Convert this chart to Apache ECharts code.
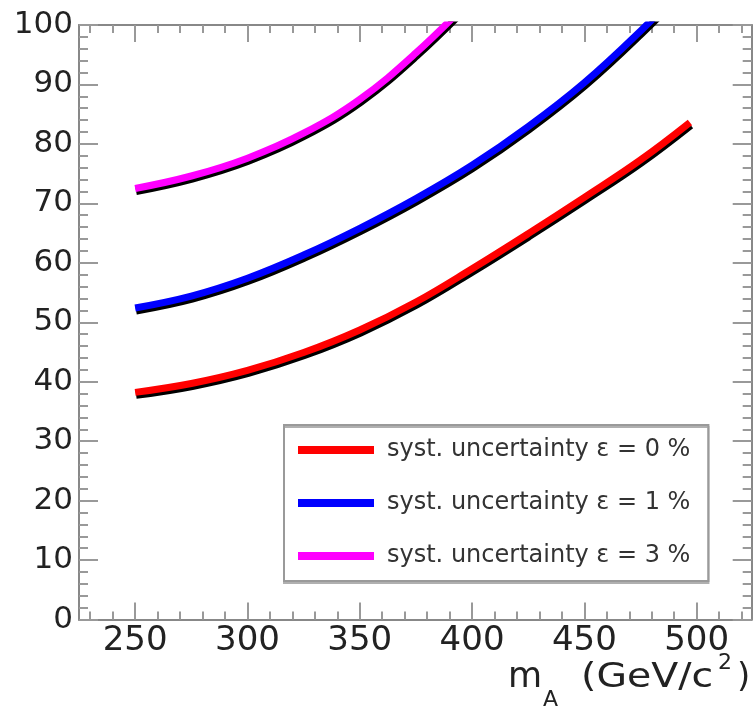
<!DOCTYPE html>
<html><head><meta charset="utf-8">
<script src="https://cdn.jsdelivr.net/npm/echarts@6/dist/echarts.min.js"></script>
<style>html,body{margin:0;padding:0;background:#fff}#c{width:753px;height:709px}</style>
</head><body><div id="c"></div>
<script>
// m_A (GeV/c^2)
const massRed = [250, 275, 300, 325, 350, 375, 400, 425, 450, 475, 497];
const limitRed = [38.2, 39.7, 41.9, 44.9, 48.7, 53.4, 59.0, 64.9, 71.0, 77.3, 83.6];
const massBlue = [250, 275, 300, 325, 350, 375, 400, 425, 450, 475, 500];
const limitBlue = [52.4, 54.4, 57.4, 61.3, 65.8, 70.8, 76.4, 82.9, 90.3, 99.0, 108.5];
const massMagenta = [250, 275, 300, 325, 350, 375, 400];
const limitMagenta = [72.5, 74.6, 77.6, 81.8, 87.5, 95.3, 104.5];

const seriesNames = ['syst. uncertainty \u03b5 = 0 %', 'syst. uncertainty \u03b5 = 1 %', 'syst. uncertainty \u03b5 = 3 %'];
const xMajorTicks = [250, 300, 350, 400, 450, 500];
const xMinorTicks = [230, 240, 260, 270, 280, 290, 310, 320, 330, 340, 360, 370, 380, 390, 410, 420, 430, 440, 460, 470, 480, 490, 510, 520];

function pairs(xs, ys) { return xs.map((x, i) => [x, ys[i]]); }

const chart = echarts.init(document.getElementById('c'), null, {renderer: 'canvas'});
const axisGray = '#888';
const tickGray = '#999';
const XMIN = 225, XMAX = 524.5;

function xAxisDef(pos, ticks, len, showLine, showLabel) {
  return {
    type: 'value', min: XMIN, max: XMAX, position: pos,
    axisLine: {show: showLine, onZero: false, lineStyle: {color: axisGray, width: 2}},
    axisTick: {show: true, inside: true, length: len, customValues: ticks, lineStyle: {color: tickGray, width: 2}},
    axisLabel: showLabel ? {show: true, customValues: ticks, fontFamily: 'DejaVu Sans', fontSize: 34, color: '#222', margin: 5} : {show: false},
    splitLine: {show: false}
  };
}
function yAxisDef(pos, showLabel) {
  return {
    type: 'value', min: 0, max: 100, interval: 10, position: pos,
    axisLine: {show: true, onZero: false, lineStyle: {color: axisGray, width: 2}},
    axisTick: {show: true, inside: true, length: 19, lineStyle: {color: tickGray, width: 2}},
    minorTick: {show: true, splitNumber: 5, length: 9, lineStyle: {color: tickGray, width: 2}},
    axisLabel: showLabel ? {show: true, fontFamily: 'DejaVu Sans', fontSize: 31, color: '#222', margin: 6} : {show: false},
    splitLine: {show: false}
  };
}
function lineSeries(name, data, color) {
  return {
    name: name, type: 'line', xAxisIndex: 0, yAxisIndex: 0, data: data,
    showSymbol: false, symbol: 'none', smooth: 0.4, clip: true,
    color: color,
    lineStyle: {color: color, width: 7, shadowColor: '#000', shadowBlur: 0, shadowOffsetX: 1, shadowOffsetY: 3},
    itemStyle: {color: color}
  };
}

const titleFont = 'DejaVu Sans';
chart.setOption({
  animation: false,
  backgroundColor: '#fff',
  grid: {left: 79, right: 1.3, top: 25, bottom: 89.5, containLabel: false},
  xAxis: [
    xAxisDef('bottom', xMajorTicks, 17, true, true),
    xAxisDef('bottom', xMinorTicks, 8, false, false),
    xAxisDef('top', xMajorTicks, 17, true, false),
    xAxisDef('top', xMinorTicks, 8, false, false)
  ],
  yAxis: [yAxisDef('left', true), yAxisDef('right', false)],
  legend: {
    orient: 'vertical', left: 284, top: 425,
    data: seriesNames,
    icon: 'rect', itemWidth: 76, itemHeight: 8, itemGap: 23,
    selectedMode: false,
    backgroundColor: '#fff', borderColor: '#9a9a9a', borderWidth: 2,
    shadowColor: '#b0b0b0', shadowBlur: 0, shadowOffsetX: 0, shadowOffsetY: 2,
    padding: [10, 18, 10, 14],
    textStyle: {fontFamily: 'DejaVu Sans', fontSize: 24, color: '#333', lineHeight: 30, padding: [0, 0, 0, 8]}
  },
  series: [
    lineSeries(seriesNames[0], pairs(massRed, limitRed), '#ff0000'),
    lineSeries(seriesNames[1], pairs(massBlue, limitBlue), '#0000ff'),
    lineSeries(seriesNames[2], pairs(massMagenta, limitMagenta), '#ff00ff')
  ],
  graphic: [
    {type: 'text', x: 508, y: 678, style: {text: 'm', fontFamily: titleFont, fontSize: 35, fill: '#222', align: 'left', verticalAlign: 'middle', textAlign: 'left', textVerticalAlign: 'middle'}},
    {type: 'text', x: 543, y: 700, style: {text: 'A', fontFamily: titleFont, fontSize: 22, fill: '#222', align: 'left', verticalAlign: 'middle', textAlign: 'left', textVerticalAlign: 'middle'}},
    {type: 'text', x: 581, y: 678, scaleX: 1.16, style: {text: '(GeV/c', fontFamily: titleFont, fontSize: 34, fill: '#222', align: 'left', verticalAlign: 'middle', textAlign: 'left', textVerticalAlign: 'middle'}},
    {type: 'text', x: 718, y: 663, style: {text: '2', fontFamily: titleFont, fontSize: 22, fill: '#222', align: 'left', verticalAlign: 'middle', textAlign: 'left', textVerticalAlign: 'middle'}},
    {type: 'text', x: 737, y: 678, style: {text: ')', fontFamily: titleFont, fontSize: 34, fill: '#222', align: 'left', verticalAlign: 'middle', textAlign: 'left', textVerticalAlign: 'middle'}}
  ]
});
</script>
</body></html>
